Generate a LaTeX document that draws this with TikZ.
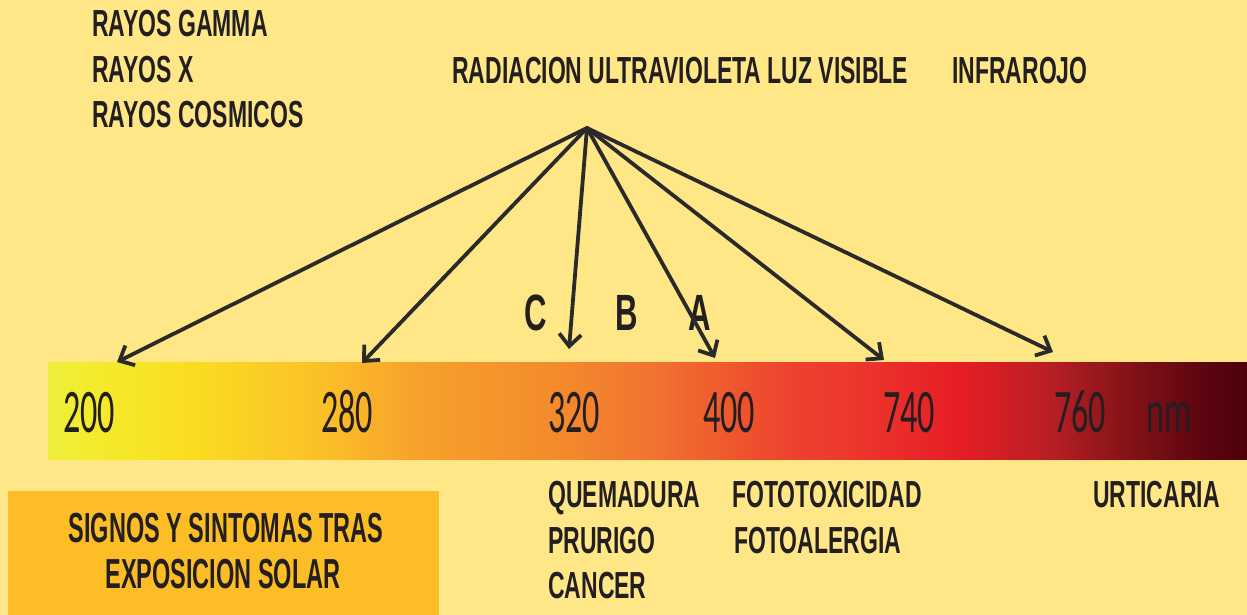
\documentclass[tikz,border=0pt]{standalone}
\usepackage{fontspec}
\usetikzlibrary{arrows.meta}
\newfontfamily\condb[FakeStretch=0.61]{Liberation Sans Bold}
\newfontfamily\boxf[FakeStretch=0.56]{Liberation Sans Bold}
\newfontfamily\numf[FakeStretch=0.55]{Carlito}
\definecolor{bg}{HTML}{FFE787}
\definecolor{boxc}{HTML}{FDBD26}
\definecolor{ink}{HTML}{231F20}
\definecolor{arr}{HTML}{2B2A2A}
\definecolor{s0}{HTML}{EEEF3D}
\definecolor{s1}{HTML}{F5EA2B}
\definecolor{s2}{HTML}{FADB22}
\definecolor{s3}{HTML}{FBBE28}
\definecolor{s4}{HTML}{F7A02B}
\definecolor{s5}{HTML}{F38A2C}
\definecolor{s6}{HTML}{F17430}
\definecolor{s7}{HTML}{EF5B2D}
\definecolor{s8}{HTML}{EE3F2E}
\definecolor{s9}{HTML}{ED3A2E}
\definecolor{s10}{HTML}{E61D25}
\definecolor{s11}{HTML}{B81F25}
\definecolor{s12}{HTML}{891418}
\definecolor{s13}{HTML}{5E0510}
\definecolor{s14}{HTML}{4E000A}
\pgfdeclarehorizontalshading{spectrum}{100bp}{color(0bp)=(s0); color(25bp)=(s0); color(27.17bp)=(s1); color(31.34bp)=(s2); color(36.76bp)=(s3); color(40.51bp)=(s4); color(46.35bp)=(s5); color(50.10bp)=(s6); color(53.02bp)=(s7); color(56.36bp)=(s8); color(58.03bp)=(s9); color(63.03bp)=(s10); color(66.78bp)=(s11); color(69.70bp)=(s12); color(73.04bp)=(s13); color(75bp)=(s14); color(100bp)=(s14)}
\tikzset{
  lbl/.style={text=ink, inner sep=0pt, font=\condb\fontsize{37.7}{45}\selectfont},
  big/.style={text=ink, inner sep=0pt, font=\condb\fontsize{51}{60}\selectfont},
  boxtxt/.style={text=ink, inner sep=0pt, font=\boxf\fontsize{42}{50}\selectfont},
  num/.style={text=ink, inner sep=0pt, font=\numf\fontsize{62}{70}\selectfont},
  ray/.style={draw=arr, line width=3.8pt, line cap=round, -{Straight Barb[length=12pt,width=22pt,line width=3.8pt]}}
}
\begin{document}
\begin{tikzpicture}[x=1pt,y=-1pt]
\useasboundingbox (0,0) rectangle (1247,615);
\fill[bg] (0,0) rectangle (1247,615);
% spectrum bar
\shade[shading=spectrum] (48,362) rectangle (1247,459);
% box
\fill[boxc] (8,491) rectangle (439,615);
% top texts
\node[lbl, anchor=base west] (g1) at (92,37) {RAYOS GAMMA};
\node[lbl, anchor=base west] (g2) at (92,83) {RAYOS X};
\node[lbl, anchor=base west] (g3) at (92,128) {RAYOS COSMICOS};
\node[lbl, anchor=base west] (uv) at (452,84) {RADIACION ULTRAVIOLETA LUZ VISIBLE};
\node[lbl, anchor=base west] (ir) at (952,84) {INFRAROJO};
% C B A
\node[big, anchor=base west] (lc) at (524,330) {C};
\node[big, anchor=base west] (lb) at (615,330) {B};
\node[big, anchor=base west] (la) at (688,330) {A};
% numbers
\node[num, anchor=base west] (n1) at (63,432) {200};
\node[num, anchor=base west] (n2) at (321,432) {280};
\node[num, anchor=base west] (n3) at (548,432) {320};
\node[num, anchor=base west] (n4) at (703,432) {400};
\node[num, anchor=base west] (n5) at (883,432) {740};
\node[num, anchor=base west] (n6) at (1054,432) {760};
\node[num, anchor=base west] (nm) at (1146,432) {nm};
% bottom texts
\node[lbl, anchor=base west] (q1) at (548,507) {QUEMADURA};
\node[lbl, anchor=base west] (q2) at (548,553) {PRURIGO};
\node[lbl, anchor=base west] (q3) at (548,598) {CANCER};
\node[lbl, anchor=base west] (f1) at (732,507) {FOTOTOXICIDAD};
\node[lbl, anchor=base west] (f2) at (734,553) {FOTOALERGIA};
\node[lbl, anchor=base west] (u1) at (1093,507) {URTICARIA};
\node[boxtxt, anchor=base] (b1) at (226,542) {SIGNOS Y SINTOMAS TRAS};
\node[boxtxt, anchor=base] (b2) at (223,588) {EXPOSICION SOLAR};
% arrows
\coordinate (apex) at (587,128);
\coordinate (e1) at (117,362);
\coordinate (e2) at (362,363);
\coordinate (e3) at (569,349);
\coordinate (e4) at (715,358);
\coordinate (e5) at (884,360);
\coordinate (e6) at (1053,352);
\foreach \e in {e1,e2,e3,e4,e5,e6} \draw[ray] (apex) -- (\e);
\end{tikzpicture}
\end{document}
